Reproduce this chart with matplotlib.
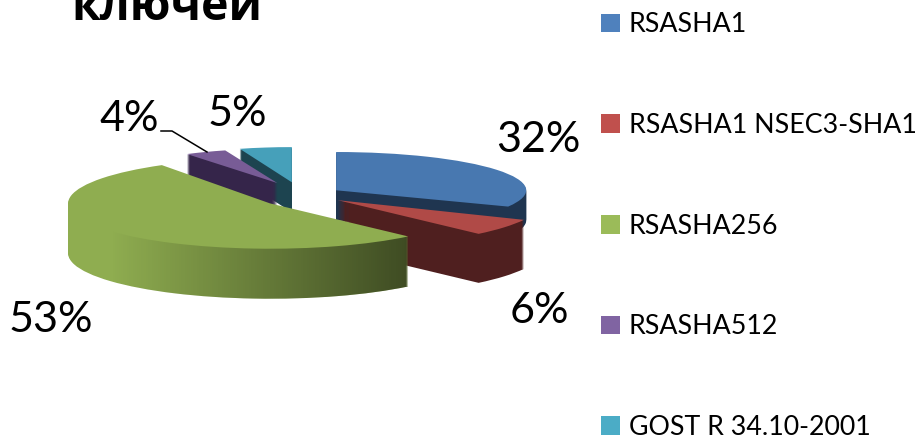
import numpy as np
import matplotlib
matplotlib.use("Agg")
import matplotlib.pyplot as plt
from matplotlib.patches import Patch
from matplotlib.path import Path
from matplotlib.lines import Line2D
from matplotlib.transforms import Affine2D

title = "ключей"
names = ["RSASHA1", "RSASHA1 NSEC3-SHA1", "RSASHA256", "RSASHA512", "GOST R 34.10-2001"]
shares = [32, 6, 53, 4, 5]
legend_colors = ["#4F81BD", "#C0504D", "#9BBB59", "#8064A2", "#4BACC6"]
top_colors = ["#4878B0", "#B04A47", "#8FAD50", "#785C96", "#46A0BA"]
side_colors = ["#1F3550", "#4F1F1F", "#8FAD50", "#35254A", "#1D4450"]

W, H = 920, 436
rx, ry = 196, 44          # pie radius on screen
cx, cy = 303, 195         # pie centre, pixels from top left
explode = [0.2] * 5
paint_order = [4, 3, 0, 1, 2]   # back slices first
## fake perspective, slices at the back are smaller and thinner
depths = [30, 49, 50, 30, 30]
scale_x = [0.97, 1.05, 1.03, 0.86, 0.86]
scale_y = [0.87, 1.05, 1.03, 0.78, 0.80]
nudge = [(0, 0), (3, 0), (-2, 3), (-9, -4), (-5, -4)]  # pixels

plt.rcParams["font.family"] = ["Lato", "Open Sans", "DejaVu Sans"]

fig = plt.figure(figsize=(W / 100, H / 100), dpi=100)
ax = fig.add_axes([0, 0, 1, 1])

## one pie per pixel of depth, stacked from the bottom up
green_paths = []
for k in range(max(depths), -1, -1):
    colors = top_colors if k == 0 else side_colors
    wedges, _ = ax.pie(shares, colors=colors, explode=explode, startangle=90, counterclock=False,
                       center=(0, 0), radius=1, wedgeprops={"linewidth": 0}, frame=True)
    for i, w in enumerate(wedges):
        if k > depths[i]:
            w.set_visible(False)
            continue
        a, b = w.center
        warp = (Affine2D().translate(-a, -b).scale(scale_x[i], scale_y[i]).translate(a, b)
                .translate(nudge[i][0] / rx, -(nudge[i][1] + k) / ry))
        w.set_transform(warp + ax.transData)
        w.set_zorder(10 * (paint_order.index(i) + 1) + (2 if k == 0 else 0))
        w.set_clip_on(False)
        if k > 0 and i == 2:
            green_paths.append(warp.transform_path(w.get_path()))

ax.set_aspect("auto")
ax.set_xlim(-cx / rx, (W - cx) / rx)
ax.set_ylim(-(H - cy) / ry, cy / ry)
ax.axis("off")

## the darkening along the side of the big slice
x0, x1 = ax.get_xlim()
y0, y1 = ax.get_ylim()
xs = np.arange(W)
alpha = np.clip((xs - 110) / (405 - 110), 0, 1) * 0.56
shade = np.zeros((1, W, 4))
shade[0, :, 3] = alpha
im = ax.imshow(shade, extent=(x0, x1, y0, y1), aspect="auto", zorder=51, interpolation="bilinear")
im.set_clip_path(Path.make_compound_path(*green_paths), transform=ax.transData)
ax.set_xlim(x0, x1)
ax.set_ylim(y0, y1)

## percent labels
label_pos = [(538, 140), (539, 311), (51, 320), (129, 119), (237, 114)]
for v, (px, py) in zip(shares, label_pos):
    fig.text(px / W, 1 - py / H, f"{v}%", fontsize=31, ha="center", va="center", color="#000000", zorder=100)

## leader for the small slice
fig.add_artist(Line2D(np.array([161, 172, 207]) / W, 1 - np.array([131, 131, 152]) / H,
                      color="black", lw=1.1, zorder=100))

fig.text(71 / W, 1 - 20 / H, title, fontsize=33.5, fontweight="bold", family=["Open Sans", "DejaVu Sans"],
         ha="left", va="baseline")

handles = [Patch(facecolor=c, edgecolor="none", label=n) for c, n in zip(legend_colors, names)]
fig.legend(handles=handles, loc="upper left", bbox_to_anchor=(601 / W, 1 - 12.5 / H), frameon=False,
           fontsize=19.3, borderpad=0, borderaxespad=0, handlelength=0.7, handleheight=0.7,
           handletextpad=0.33, labelspacing=2.82)

fig.savefig("out.png", dpi=100)
